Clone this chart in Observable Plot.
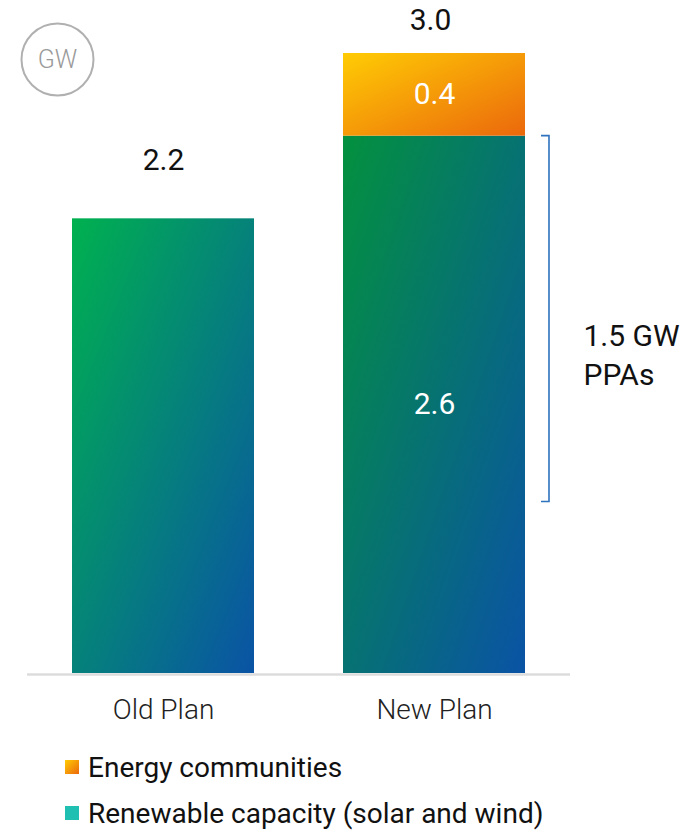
<!DOCTYPE html>
<html>
<head>
<meta charset="utf-8">
<script src="https://cdn.jsdelivr.net/npm/d3@7"></script>
<script src="https://cdn.jsdelivr.net/npm/@observablehq/plot@0.6"></script>
<style>
  html, body { margin: 0; padding: 0; background: #fff; }
  body { width: 694px; font-family: Roboto, "Noto Sans", sans-serif; }
  #chart svg { display: block; }
  .legend { margin-top: 9px; padding-left: 65px; }
  .legend .row { height: 46px; display: flex; align-items: center; font-size: 28px; color: #111; }
  .legend .sw { width: 14px; height: 14px; margin-right: 9px; flex: none; }
</style>
</head>
<body>
<div id="chart"></div>
<div class="legend" id="legend"></div>
<script>
// ---- data ----
const plans = ["Old Plan", "New Plan"];
const renewable = [2.2, 2.6];            // Renewable capacity (solar and wind), GW
const energyCommunities = [0, 0.4];      // Energy communities, GW
const totals = [2.2, 3.0];               // totals above bars
const ppaPlan = "New Plan";
const ppaRange = [0.83, 2.6];            // extent of the PPA bracket, GW
const ppaLabel = "1.5 GW\nPPAs";
const unitLabel = "GW";
const seriesNames = ["Energy communities", "Renewable capacity (solar and wind)"];

// ---- table ----
const rows = [];
plans.forEach((p, i) => {
  const split = energyCommunities[i] > 0;
  rows.push({plan: p, series: "renewable", value: renewable[i], key: i === 0 ? "ren-old" : "ren-new", inner: split});
  if (split) rows.push({plan: p, series: "ec", value: energyCommunities[i], key: "ec", inner: true});
});
const totalRows = plans.map((p, i) => ({plan: p, total: totals[i]}));
const ppa = [{plan: ppaPlan, from: ppaRange[0], to: ppaRange[1], label: ppaLabel}];

const bracket = (index, scales) => {
  const {x, y} = scales;
  const bw = typeof x.bandwidth === "function" ? x.bandwidth() : (x.bandwidth ?? 0);
  const g = d3.create("svg:g");
  for (const d of ppa) {
    const bx = x(d.plan) + bw + 24;
    g.append("path")
      .attr("d", `M${bx - 8},${y(d.to)}H${bx}V${y(d.from)}H${bx - 8}`)
      .attr("fill", "none")
      .attr("stroke", "#2f72bd")
      .attr("stroke-width", 1.6);
  }
  return g.node();
};

const chart = Plot.plot({
  width: 694,
  height: 735,
  marginTop: 53,
  marginBottom: 62,
  marginLeft: 27,
  marginRight: 124,
  style: {fontFamily: "Roboto, 'Noto Sans', sans-serif", color: "#222", background: "#fff"},
  x: {domain: plans, paddingInner: 0.328, paddingOuter: 0.164, label: null},
  y: {domain: [0, 3.0], axis: null},
  color: {domain: ["ren-old", "ren-new", "ec"], range: ["url(#g-old)", "url(#g-new)", "url(#g-ec)"]},
  marks: [
    Plot.ruleY([0], {stroke: "#dcdcdc", strokeWidth: 2.5, dy: 1}),
    Plot.barY(rows, {x: "plan", y: "value", fill: "key", order: ["renewable", "ec"], z: "series"}),
    Plot.text(rows, Plot.stackY({x: "plan", y: "value", z: "series", order: ["renewable", "ec"], filter: "inner", text: d => d.value.toFixed(1), fill: "white", fontSize: 30})),
    Plot.text(totalRows.filter(d => d.plan === "Old Plan"), {x: "plan", y: "total", text: d => d.total.toFixed(1), dy: -58, fontSize: 30, fill: "#111"}),
    Plot.text(totalRows.filter(d => d.plan !== "Old Plan"), {x: "plan", y: "total", text: d => d.total.toFixed(1), dx: -4, dy: -33, fontSize: 30, fill: "#111"}),
    bracket,
    Plot.text(ppa, {x: "plan", y: d => (d.from + d.to) / 2, text: "label", dx: 149, dy: 34, textAnchor: "start", fontSize: 30, lineHeight: 1.3, fill: "#111"}),
    Plot.dot([unitLabel], {frameAnchor: "top-left", dx: 30, dy: 6, r: 36, stroke: "#b0b0b0", strokeWidth: 2, fill: "none"}),
    Plot.text([unitLabel], {frameAnchor: "top-left", dx: 30, dy: 6, textAnchor: "middle", lineAnchor: "middle", fontSize: 25, fontWeight: 300, fill: "#9a9a9a"}),
    Plot.axisX({tickSize: 0, tickPadding: 26, fontSize: 28, fontWeight: 300, label: null})
  ]
});

// gradients
const defs = d3.select(chart).insert("defs", ":first-child");
const grads = [
  ["g-old", "#00b14f", "#0a53a5"],
  ["g-new", "#03913e", "#0a53a5"],
  ["g-ec", "#ffcc04", "#eb680c"]
];
for (const [id, c0, c1] of grads) {
  const lg = defs.append("linearGradient").attr("id", id).attr("x1", 0).attr("y1", 0).attr("x2", 1).attr("y2", 1);
  lg.append("stop").attr("offset", "0%").attr("stop-color", c0);
  lg.append("stop").attr("offset", "100%").attr("stop-color", c1);
}
document.getElementById("chart").append(chart);

// legend
const swatches = ["linear-gradient(135deg, #ffcc04, #eb680c)", "#1fbfb1"];
const legend = document.getElementById("legend");
seriesNames.forEach((name, i) => {
  const row = document.createElement("div");
  row.className = "row";
  const sw = document.createElement("span");
  sw.className = "sw";
  sw.style.background = swatches[i];
  const t = document.createElement("span");
  t.textContent = name;
  row.append(sw, t);
  legend.append(row);
});
</script>
</body>
</html>
